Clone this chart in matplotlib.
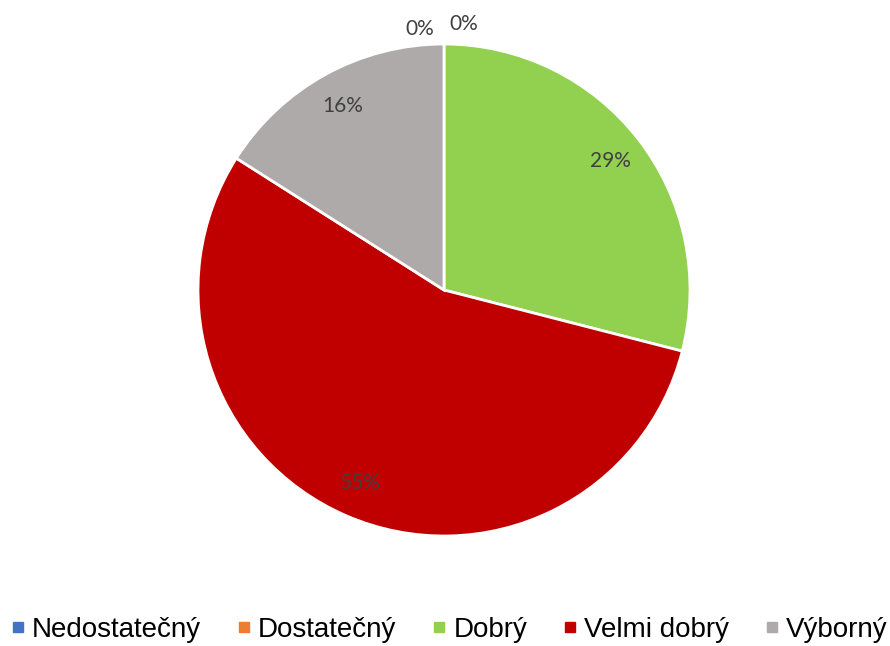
import matplotlib
matplotlib.use('Agg')
import matplotlib.pyplot as plt
from matplotlib.lines import Line2D
import numpy as np

# data
categories = ['Nedostatečný', 'Dostatečný', 'Dobrý', 'Velmi dobrý', 'Výborný']
values = [0, 0, 29, 55, 16]
colors = ['#4472C4', '#ED7D31', '#92D050', '#C00000', '#AEAAAA']

fig = plt.figure(figsize=(8.9, 6.46), dpi=100)
ax = fig.add_axes([198 / 890, 110 / 646, 492 / 890, 492 / 646])

wedges, _ = ax.pie(values, colors=colors, startangle=90, counterclock=False,
                   radius=1, wedgeprops=dict(edgecolor='white', linewidth=2))
ax.set_xlim(-1, 1)
ax.set_ylim(-1, 1)
ax.set_aspect('equal')
ax.axis('off')

# percentage labels
total = sum(values)
zero_shift = {0: (-0.1, 1.06), 1: (0.08, 1.08)}
for i, (w, v) in enumerate(zip(wedges, values)):
    pct = f'{round(100 * v / total)}%'
    if v == 0:
        x, y = zero_shift[i]
    else:
        ang = np.deg2rad((w.theta1 + w.theta2) / 2)
        x, y = 0.855 * np.cos(ang), 0.855 * np.sin(ang)
    ax.text(x, y, pct, ha='center', va='center', fontsize=15,
            color='#404040', family='Lato')

handles = [Line2D([0], [0], marker='s', linestyle='', markersize=6.5,
                  markerfacecolor=c, markeredgecolor=c) for c in colors]
fig.legend(handles, categories, loc='center', bbox_to_anchor=(0.505, 0.025),
           ncol=5, frameon=False, handlelength=0.5, handletextpad=0.25,
           columnspacing=1.3, prop=dict(family='Liberation Sans', size=20))

fig.savefig('out.png', dpi=100)
